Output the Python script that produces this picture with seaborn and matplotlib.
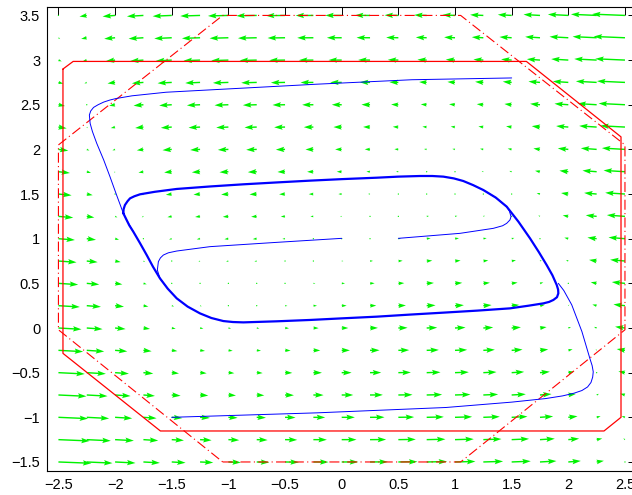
import matplotlib
matplotlib.use("Agg")
import matplotlib.pyplot as plt
import pandas as pd
import seaborn as sns
import numpy as np

# quiver grid
grid_x = [-2.5, -2.25, -2.0, -1.75, -1.5, -1.25, -1.0, -0.75, -0.5, -0.25, 0.0,
          0.25, 0.5, 0.75, 1.0, 1.25, 1.5, 1.75, 2.0, 2.25, 2.5]
grid_y = [-1.5, -1.25, -1.0, -0.75, -0.5, -0.25, 0.0, 0.25, 0.5, 0.75, 1.0,
          1.25, 1.5, 1.75, 2.0, 2.25, 2.5, 2.75, 3.0, 3.25, 3.5]

# horizontal arrow components, one row per grid_y (bottom to top)
u_rows = [
    [5.0, 3.9, 3.1, 2.5, 2.1, 2.0, 1.9, 1.9, 2.1, 2.3, 2.5, 2.7, 2.9, 3.1, 3.1, 3.0, 2.9, 2.5, 1.9, 1.1, 0.0],
    [4.75, 3.65, 2.85, 2.25, 1.85, 1.75, 1.65, 1.65, 1.85, 2.05, 2.25, 2.45, 2.65, 2.85, 2.85, 2.75, 2.65, 2.25, 1.65, 0.85, -0.25],
    [4.5, 3.4, 2.6, 2.0, 1.6, 1.5, 1.4, 1.4, 1.6, 1.8, 2.0, 2.2, 2.4, 2.6, 2.6, 2.5, 2.4, 2.0, 1.4, 0.6, -0.5],
    [4.25, 3.15, 2.35, 1.75, 1.35, 1.25, 1.15, 1.15, 1.35, 1.55, 1.75, 1.95, 2.15, 2.35, 2.35, 2.25, 2.15, 1.75, 1.15, 0.35, -0.75],
    [4.0, 2.9, 2.1, 1.5, 1.1, 1.0, 0.9, 0.9, 1.1, 1.3, 1.5, 1.7, 1.9, 2.1, 2.1, 2.0, 1.9, 1.5, 0.9, 0.1, -1.0],
    [3.75, 2.65, 1.85, 1.25, 0.85, 0.75, 0.65, 0.65, 0.85, 1.05, 1.25, 1.45, 1.65, 1.85, 1.85, 1.75, 1.65, 1.25, 0.65, -0.15, -1.25],
    [3.5, 2.4, 1.6, 1.0, 0.6, 0.5, 0.4, 0.4, 0.6, 0.8, 1.0, 1.2, 1.4, 1.6, 1.6, 1.5, 1.4, 1.0, 0.4, -0.4, -1.5],
    [3.25, 2.15, 1.35, 0.75, 0.35, 0.25, 0.15, 0.15, 0.35, 0.55, 0.75, 0.95, 1.15, 1.35, 1.35, 1.25, 1.15, 0.75, 0.15, -0.65, -1.75],
    [3.0, 1.9, 1.1, 0.5, 0.1, 0.0, -0.1, -0.1, 0.1, 0.3, 0.5, 0.7, 0.9, 1.1, 1.1, 1.0, 0.9, 0.5, -0.1, -0.9, -2.0],
    [2.75, 1.65, 0.85, 0.25, -0.15, -0.25, -0.35, -0.35, -0.15, 0.05, 0.25, 0.45, 0.65, 0.85, 0.85, 0.75, 0.65, 0.25, -0.35, -1.15, -2.25],
    [2.5, 1.4, 0.6, 0.0, -0.4, -0.5, -0.6, -0.6, -0.4, -0.2, 0.0, 0.2, 0.4, 0.6, 0.6, 0.5, 0.4, 0.0, -0.6, -1.4, -2.5],
    [2.25, 1.15, 0.35, -0.25, -0.65, -0.75, -0.85, -0.85, -0.65, -0.45, -0.25, -0.05, 0.15, 0.35, 0.35, 0.25, 0.15, -0.25, -0.85, -1.65, -2.75],
    [2.0, 0.9, 0.1, -0.5, -0.9, -1.0, -1.1, -1.1, -0.9, -0.7, -0.5, -0.3, -0.1, 0.1, 0.1, 0.0, -0.1, -0.5, -1.1, -1.9, -3.0],
    [1.75, 0.65, -0.15, -0.75, -1.15, -1.25, -1.35, -1.35, -1.15, -0.95, -0.75, -0.55, -0.35, -0.15, -0.15, -0.25, -0.35, -0.75, -1.35, -2.15, -3.25],
    [1.5, 0.4, -0.4, -1.0, -1.4, -1.5, -1.6, -1.6, -1.4, -1.2, -1.0, -0.8, -0.6, -0.4, -0.4, -0.5, -0.6, -1.0, -1.6, -2.4, -3.5],
    [1.25, 0.15, -0.65, -1.25, -1.65, -1.75, -1.85, -1.85, -1.65, -1.45, -1.25, -1.05, -0.85, -0.65, -0.65, -0.75, -0.85, -1.25, -1.85, -2.65, -3.75],
    [1.0, -0.1, -0.9, -1.5, -1.9, -2.0, -2.1, -2.1, -1.9, -1.7, -1.5, -1.3, -1.1, -0.9, -0.9, -1.0, -1.1, -1.5, -2.1, -2.9, -4.0],
    [0.75, -0.35, -1.15, -1.75, -2.15, -2.25, -2.35, -2.35, -2.15, -1.95, -1.75, -1.55, -1.35, -1.15, -1.15, -1.25, -1.35, -1.75, -2.35, -3.15, -4.25],
    [0.5, -0.6, -1.4, -2.0, -2.4, -2.5, -2.6, -2.6, -2.4, -2.2, -2.0, -1.8, -1.6, -1.4, -1.4, -1.5, -1.6, -2.0, -2.6, -3.4, -4.5],
    [0.25, -0.85, -1.65, -2.25, -2.65, -2.75, -2.85, -2.85, -2.65, -2.45, -2.25, -2.05, -1.85, -1.65, -1.65, -1.75, -1.85, -2.25, -2.85, -3.65, -4.75],
    [0.0, -1.1, -1.9, -2.5, -2.9, -3.0, -3.1, -3.1, -2.9, -2.7, -2.5, -2.3, -2.1, -1.9, -1.9, -2.0, -2.1, -2.5, -3.1, -3.9, -5.0],
]
# small vertical components, one per grid_x column
v_cols = [-0.25, -0.22, -0.2, -0.18, -0.15, -0.12, -0.1, -0.08, -0.05, -0.02, 0.0,
          0.02, 0.05, 0.08, 0.1, 0.12, 0.15, 0.18, 0.2, 0.22, 0.25]

# constraint polygons
box_x = [-2.46, -2.37, 1.63, 2.465, 2.465, 2.315, -1.60, -2.46, -2.46]
box_y = [2.90, 2.985, 2.985, 2.14, -1.0, -1.153, -1.153, -0.284, 2.90]
hex_x = [-1.05, 1.05, 2.5, 2.5, 1.05, -1.05, -2.5, -2.5, -1.05]
hex_y = [-1.5, -1.5, -0.02, 2.05, 3.5, 3.5, 2.05, -0.02, -1.5]

# limit cycle (thick)
cyc_x = [-1.927, -1.925, -1.913, -1.89, -1.868, -1.83, -1.78, -1.65, -1.456, -1.16, -0.868,
         -0.574, -0.28, 0.0, 0.309, 0.5, 0.691, 0.80, 0.897, 0.99, 1.073, 1.16, 1.25, 1.36,
         1.456, 1.56, 1.662, 1.74, 1.809, 1.86, 1.898, 1.91, 1.912, 1.90, 1.868, 1.83, 1.78,
         1.65, 1.485, 1.2, 0.897, 0.6, 0.309, 0.0, -0.28, -0.574, -0.868, -0.96, -1.045,
         -1.15, -1.251, -1.36, -1.456, -1.535, -1.604, -1.665, -1.721, -1.78, -1.839,
         -1.875, -1.898, -1.927]
cyc_y = [1.284, 1.33, 1.377, 1.42, 1.452, 1.475, 1.497, 1.525, 1.557, 1.585, 1.609,
         1.63, 1.65, 1.667, 1.683, 1.695, 1.702, 1.702, 1.695, 1.675, 1.646, 1.60, 1.545, 1.46,
         1.359, 1.19, 1.004, 0.85, 0.705, 0.59, 0.481, 0.43, 0.388, 0.345, 0.314, 0.292, 0.276,
         0.25, 0.22, 0.195, 0.172, 0.15, 0.127, 0.108, 0.09, 0.075, 0.063, 0.067, 0.078,
         0.112, 0.164, 0.24, 0.332, 0.44, 0.556, 0.685, 0.817, 0.95, 1.078,
         1.15, 1.209, 1.284]

# trajectories (thin)
tr1_x = [0.0, -0.574, -1.162, -1.456, -1.53, -1.574, -1.60, -1.618, -1.627, -1.604, -1.535]
tr1_y = [1.004, 0.959, 0.911, 0.862, 0.842, 0.817, 0.785, 0.743, 0.649, 0.556, 0.44]
tr2_x = [0.5, 1.044, 1.338, 1.42, 1.456, 1.485, 1.494, 1.48, 1.456, 1.36, 1.25]
tr2_y = [1.004, 1.06, 1.116, 1.145, 1.172, 1.21, 1.247, 1.31, 1.359, 1.46, 1.545]
tr3_x = [1.50, 0.62, -0.22, -0.96, -1.55, -1.85, -1.99, -2.045, -2.10, -2.15, -2.19,
         -2.215, -2.227, -2.22, -2.20, -2.162, -2.10, -2.045, -1.99, -1.927, -1.898, -1.839]
tr3_y = [2.80, 2.78, 2.73, 2.68, 2.64, 2.60, 2.57, 2.553, 2.53, 2.50, 2.47,
         2.43, 2.385, 2.29, 2.2, 2.068, 1.88, 1.694, 1.50, 1.284, 1.209, 1.078]
tr4_x = [-1.5, -0.22, 0.92, 1.50, 1.80, 1.95, 2.05, 2.12, 2.17, 2.20, 2.215, 2.22,
         2.21, 2.19, 2.12, 2.03, 1.96, 1.912]
tr4_y = [-1.0, -0.95, -0.89, -0.83, -0.79, -0.76, -0.73, -0.70, -0.66, -0.61, -0.55, -0.49,
         -0.42, -0.34, -0.04, 0.26, 0.42, 0.50]

x_ticks = [-2.5, -2, -1.5, -1, -0.5, 0, 0.5, 1, 1.5, 2, 2.5]
y_ticks = [-1.5, -1, -0.5, 0, 0.5, 1, 1.5, 2, 2.5, 3, 3.5]

sns.set_style("white")
plt.rcParams['font.family'] = ['Liberation Sans', 'DejaVu Sans']

fig = plt.figure(figsize=(6.32, 4.95), dpi=100)
ax = fig.add_axes([47.1 / 632, 24.1 / 495, 589.2 / 632, 464.4 / 495])

X, Y = np.meshgrid(grid_x, grid_y)
U = np.array(u_rows)
V = np.tile(v_cols, (len(grid_y), 1))
ax.quiver(X, Y, U, V, color=(0, 0.95, 0), angles='xy', scale_units='xy', scale=17.2,
          width=0.0024, headwidth=3.8, headlength=6.0, headaxislength=5.2, zorder=1)

box = pd.DataFrame({'x': box_x, 'y': box_y})
hexa = pd.DataFrame({'x': hex_x, 'y': hex_y})
sns.lineplot(data=box, x='x', y='y', sort=False, estimator=None, color='red', lw=0.9, ax=ax)
sns.lineplot(data=hexa, x='x', y='y', sort=False, estimator=None, color='red', lw=0.8,
             linestyle=(0, (9, 3, 1, 3)), ax=ax)

for tx, ty in [(tr1_x, tr1_y), (tr2_x, tr2_y), (tr3_x, tr3_y), (tr4_x, tr4_y)]:
    sns.lineplot(x=tx, y=ty, sort=False, estimator=None, color='blue', lw=0.7, ax=ax)
sns.lineplot(x=cyc_x, y=cyc_y, sort=False, estimator=None, color='blue', lw=1.6, ax=ax)

ax.set_xlim(-2.6, 2.6)
ax.set_ylim(-1.6, 3.6)
ax.set_xticks(x_ticks)
ax.set_yticks(y_ticks)
ax.set_xticklabels([f"{t:g}".replace('-', '\u2212') for t in x_ticks])
ax.set_yticklabels([f"{t:g}".replace('-', '\u2212') for t in y_ticks])
ax.set_xlabel('')
ax.set_ylabel('')
ax.tick_params(direction='in', length=5.5, width=0.7, top=True, right=True,
               labelsize=10.5, colors='black', pad=5)
for s in ax.spines.values():
    s.set_visible(True)
    s.set_color('black')
    s.set_linewidth(0.8)

fig.savefig('out.png', dpi=100)
